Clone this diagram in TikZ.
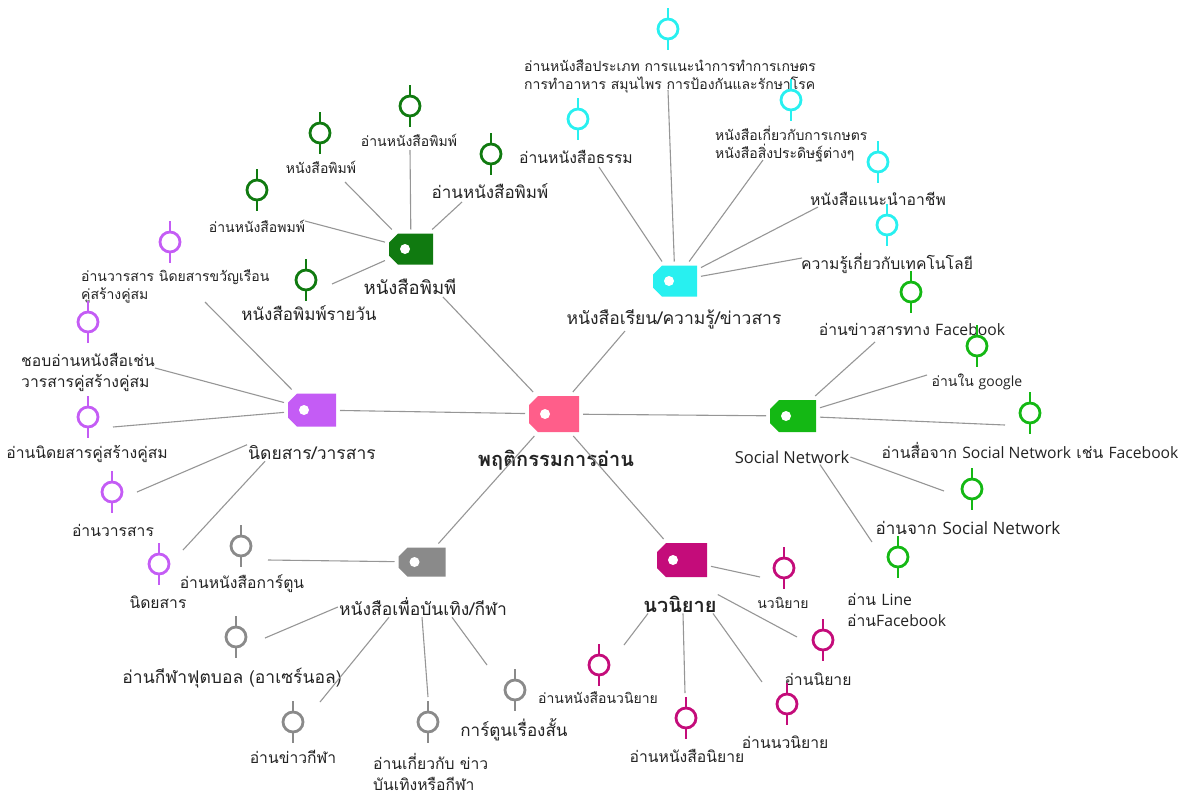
\documentclass[tikz,border=0pt]{standalone}
\usepackage{fontspec}
\setmainfont[Script=Thai]{Loma}
\newfontfamily\latinf{Open Sans}
\usepackage{xcolor}
\usepackage{tikz}

\definecolor{cpink}{RGB}{255,94,138}
\definecolor{cdkgreen}{RGB}{16,122,16}
\definecolor{ccyan}{RGB}{40,240,240}
\definecolor{cpurple}{RGB}{196,92,245}
\definecolor{cgray}{RGB}{138,138,138}
\definecolor{cmagenta}{RGB}{196,12,122}
\definecolor{cgreen}{RGB}{20,184,20}
\definecolor{clink}{RGB}{150,150,150}
\definecolor{ctext}{RGB}{35,35,35}

\tikzset{
	tagbox/.style={minimum width=46pt, minimum height=32pt, inner sep=0pt, outer sep=4pt, fill=white,
		path picture={
			\fill[#1] ([xshift=9pt]path picture bounding box.north west) -- (path picture bounding box.north east)
			-- (path picture bounding box.south east) -- ([xshift=9pt]path picture bounding box.south west)
			-- ([yshift=9pt]path picture bounding box.south west) -- ([yshift=-9pt]path picture bounding box.north west) -- cycle;
			\fill[white] ([xshift=16pt]path picture bounding box.west) circle (5pt);
		}},
	pinmark/.pic={
		\draw[line width=2.8pt] (0,-21) -- (0,-10) (0,10) -- (0,21);
		\draw[line width=2.8pt, fill=white] (0,0) circle (10pt);
	},
	leafs/.style={font=\fontsize{14}{18}\selectfont, text=ctext, inner sep=1pt, align=left},
	leafm/.style={font=\fontsize{15.7}{21}\selectfont, text=ctext, inner sep=1pt, align=left},
	leafl/.style={font=\fontsize{17}{21}\selectfont, text=ctext, inner sep=1pt, align=left},
	brlabel/.style={font=\fontsize{17.5}{20}\selectfont, text=ctext, inner sep=1pt},
	mainlabel/.style={font=\bfseries\fontsize{20}{22}\selectfont, text=ctext, inner sep=1pt},
	link/.style={draw=clink, line width=1.1pt}
}

\begin{document}
\begin{tikzpicture}[x=1pt, y=-1pt]
	\useasboundingbox (0,0) rectangle (1187,796);
	
	% centre
	\node[tagbox=cpink, minimum width=50pt, minimum height=36pt] (tc) at (554,414) {};
	\node[mainlabel] (lc) at (556,460) {พฤติกรรมการอ่าน};
	
	% newspapers
	\node[tagbox=cdkgreen, minimum width=44pt, minimum height=31pt] (tp) at (411,249) {};
	\node[brlabel, font=\fontsize{18.5}{20}\selectfont] (lp) at (410,287) {หนังสือพิมพี};
	\pic[cdkgreen] at (320,133) {pinmark};
	\node[leafs] (p1) at (321,167) {หนังสือพิมพ์};
	\pic[cdkgreen] at (410,106) {pinmark};
	\node[leafs] (p2) at (409,140) {อ่านหนังสือพิมพ์};
	\pic[cdkgreen] at (491,154) {pinmark};
	\node[leafl] (p3) at (490,191) {อ่านหนังสือพิมพ์};
	\pic[cdkgreen] at (257,190) {pinmark};
	\node[leafs] (p4) at (257,226) {อ่านหนังสือพมพ์};
	\pic[cdkgreen] at (306,280) {pinmark};
	\node[leafl] (p5) at (309,313) {หนังสือพิมพ์รายวัน};
	\coordinate (p1e) at (345,182);
	\coordinate (p2e) at (410,150);
	\coordinate (p3e) at (462,202);
	\coordinate (p4e) at (305,221);
	\coordinate (p5e) at (332,284);
	\coordinate (pe) at (443,297);
	\draw[link] (tp) -- (p1e);
	\draw[link] (tp) -- (p2e);
	\draw[link] (tp) -- (p3e);
	\draw[link] (tp) -- (p4e);
	\draw[link] (tp) -- (p5e);
	\draw[link] (tc) -- (pe);
	
	% study / knowledge / news
	\node[tagbox=ccyan, minimum width=44pt, minimum height=31pt] (tk) at (675,281) {};
	\node[brlabel] (lk) at (674,319) {หนังสือเรียน/ความรู้/ข่าวสาร};
	\pic[ccyan] at (668,29) {pinmark};
	\node[leafs, anchor=west] (k1) at (523,76) {อ่านหนังสือประเภท การแนะนำการทำการเกษตร\\การทำอาหาร สมุนไพร การป้องกันและรักษาโรค};
	\pic[ccyan] at (578,119) {pinmark};
	\node[leafm] (k2) at (576,157) {อ่านหนังสือธรรม};
	\pic[ccyan] at (791,100) {pinmark};
	\node[leafs, anchor=west] (k3) at (714,144) {หนังสือเกี่ยวกับการเกษตร\\หนังสือสิ่งประดิษฐ์ต่างๆ};
	\pic[ccyan] at (878,162) {pinmark};
	\node[leafm] (k4) at (878,199) {หนังสือแนะนำอาชีพ};
	\pic[ccyan] at (887,225) {pinmark};
	\node[leafm] (k5) at (887,263) {ความรู้เกี่ยวกับเทคโนโลยี};
	\coordinate (k1e) at (668,90);
	\coordinate (k2e) at (599,167);
	\coordinate (k3e) at (763,160);
	\coordinate (k4e) at (818,207);
	\coordinate (k5e) at (802,258);
	\coordinate (ke) at (625,331);
	\draw[link] (tk) -- (k1e);
	\draw[link] (tk) -- (k2e);
	\draw[link] (tk) -- (k3e);
	\draw[link] (tk) -- (k4e);
	\draw[link] (tk) -- (k5e);
	\draw[link] (tc) -- (ke);
	
	% magazines
	\node[tagbox=cpurple, minimum width=48pt, minimum height=33pt] (tv) at (312,410) {};
	\node[brlabel] (lv) at (312,453) {นิดยสาร/วารสาร};
	\pic[cpurple] at (170,242) {pinmark};
	\node[leafs, anchor=west] (v1) at (80,286) {อ่านวารสาร นิดยสารขวัญเรือน\\คู่สร้างคู่สม};
	\pic[cpurple] at (88,322) {pinmark};
	\node[leafm, anchor=west] (v2) at (20,372) {ชอบอ่านหนังสือเช่น\\วารสารคู่สร้างคู่สม};
	\pic[cpurple] at (88,417) {pinmark};
	\node[leafm] (v3) at (87,454) {อ่านนิดยสารคู่สร้างคู่สม};
	\pic[cpurple] at (112,492) {pinmark};
	\node[leafm] (v4) at (113,530) {อ่านวารสาร};
	\pic[cpurple] at (159,564) {pinmark};
	\node[leafm] (v5) at (158,602) {นิดยสาร};
	\coordinate (v1e) at (205,302);
	\coordinate (v2e) at (155,368);
	\coordinate (v3e) at (113,427);
	\coordinate (v4e) at (137,492);
	\coordinate (v5e) at (183,550);
	\draw[link] (tv) -- (v1e);
	\draw[link] (tv) -- (v2e);
	\draw[link] (tv) -- (v3e);
	\draw[link] (lv.north west) -- (v4e);
	\draw[link] ([xshift=18pt]lv.south west) -- (v5e);
	\draw[link] (tc) -- (tv);
	
	% entertainment / sport
	\node[tagbox=cgray, minimum width=47pt, minimum height=29pt] (tg) at (422,562) {};
	\node[brlabel] (lg) at (423,607) {หนังสือเพื่อบันเทิง/กีฬา};
	\pic[cgray] at (241,546) {pinmark};
	\node[leafm] (g1) at (242,584) {อ่านหนังสือการ์ตูน};
	\pic[cgray] at (236,637) {pinmark};
	\node[leafl, font=\fontsize{17.5}{21}\selectfont] (g2) at (232,678) {อ่านกีฬาฟุตบอล (อาเซร์นอล)};
	\pic[cgray] at (293,722) {pinmark};
	\node[leafm] (g3) at (293,757) {อ่านข่าวกีฬา};
	\pic[cgray] at (428,722) {pinmark};
	\node[leafm, anchor=west] (g4) at (372,772) {อ่านเกี่ยวกับ ข่าว\\บันเทิงหรือกีฬา};
	\pic[cgray] at (515,690) {pinmark};
	\node[leafl] (g5) at (514,730) {การ์ตูนเรื่องสั้น};
	\coordinate (g1e) at (268,560);
	\coordinate (g2e) at (265,638);
	\coordinate (g3e) at (320,702);
	\coordinate (g4e) at (428,697);
	\coordinate (g5e) at (487,665);
	\draw[link] (tg) -- (g1e);
	\draw[link] (lg.west) -- (g2e);
	\draw[link] ([xshift=-34pt]lg.south) -- (g3e);
	\draw[link] ([xshift=-1pt]lg.south) -- (g4e);
	\draw[link] ([xshift=29pt]lg.south) -- (g5e);
	\draw[link] (tc) -- (tg);
	
	% novels
	\node[tagbox=cmagenta, minimum width=50pt, minimum height=34pt] (tm) at (682,560) {};
	\node[mainlabel] (lm) at (680,604) {นวนิยาย};
	\pic[cmagenta] at (784,568) {pinmark};
	\node[leafs] (m1) at (783,603) {นวนิยาย};
	\pic[cmagenta] at (823,640) {pinmark};
	\node[leafm] (m2) at (818,679) {อ่านนิยาย};
	\pic[cmagenta] at (787,704) {pinmark};
	\node[leafm] (m3) at (785,742) {อ่านนวนิยาย};
	\pic[cmagenta] at (686,718) {pinmark};
	\node[leafm] (m4) at (687,756) {อ่านหนังสือนิยาย};
	\pic[cmagenta] at (599,665) {pinmark};
	\node[leafs] (m5) at (598,698) {อ่านหนังสือนวนิยาย};
	\coordinate (m1e) at (760,577);
	\coordinate (m2e) at (797,637);
	\coordinate (m3e) at (762,682);
	\coordinate (m4e) at (685,693);
	\coordinate (m5e) at (624,645);
	\draw[link] (tm) -- (m1e);
	\draw[link] (lm.north east) -- (m2e);
	\draw[link] ([xshift=33pt]lm.south) -- (m3e);
	\draw[link] ([xshift=3pt]lm.south) -- (m4e);
	\draw[link] ([xshift=-32pt]lm.south) -- (m5e);
	\draw[link] (tc) -- (tm);
	
	% social network
	\node[tagbox=cgreen, minimum width=46pt, minimum height=32pt] (ts) at (793,416) {};
	\node[brlabel, font=\latinf\fontsize{16.5}{18}\selectfont] (ls) at (792,457) {Social Network};
	\pic[cgreen] at (911,292) {pinmark};
	\node[leafm] (s1) at (912,329) {อ่านข่าวสารทาง {\latinf Facebook}};
	\pic[cgreen] at (977,346) {pinmark};
	\node[leafs] (s2) at (977,382) {อ่านใน {\latinf google}};
	\pic[cgreen] at (1030,413) {pinmark};
	\node[leafm] (s3) at (1030,450) {อ่านสื่อจาก {\latinf Social Network} เช่น {\latinf Facebook}};
	\pic[cgreen] at (972,489) {pinmark};
	\node[leafl] (s4) at (968,528) {อ่านจาก {\latinf Social Network}};
	\pic[cgreen] at (898,557) {pinmark};
	\node[leafm, anchor=west] (s5) at (846,610) {อ่าน {\latinf Line}\\อ่าน{\latinf Facebook}};
	\coordinate (s1e) at (875,342);
	\coordinate (s2e) at (927,375);
	\coordinate (s3e) at (1005,425);
	\coordinate (s4e) at (944,491);
	\coordinate (s5e) at (872,542);
	\draw[link] (ts) -- (s1e);
	\draw[link] (ts) -- (s2e);
	\draw[link] (ts) -- (s3e);
	\draw[link] (ls.east) -- (s4e);
	\draw[link] ([xshift=28pt]ls.south) -- (s5e);
	\draw[link] (tc) -- (ts);
\end{tikzpicture}
\end{document}
